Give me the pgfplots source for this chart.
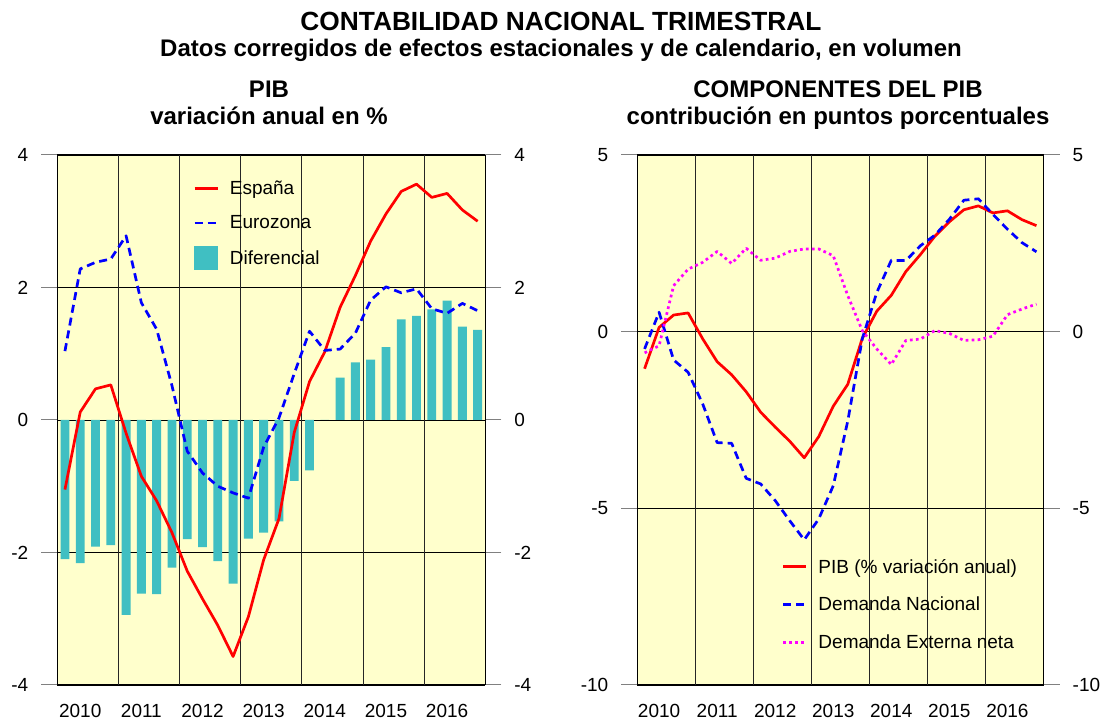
\documentclass[border=0pt]{standalone}
\usepackage{fontspec}
\setmainfont{Liberation Sans}
\usepackage{pgfplots}
\usepackage{pgfplotstable}
\pgfplotsset{compat=1.18}
\definecolor{bgyellow}{HTML}{FFFFCC}
\definecolor{barteal}{HTML}{40BFC2}
\definecolor{tickgray}{HTML}{808080}
\definecolor{pureRed}{RGB}{255,0,0}
\definecolor{pureBlue}{RGB}{0,0,255}
\definecolor{pureMag}{RGB}{255,0,255}
\newcommand{\tickfont}{\fontsize{19bp}{22bp}\selectfont}
\newcommand{\legfont}{\fontsize{19bp}{22bp}\selectfont}

\pgfplotstableread{
k esp eur dif
0 -1.05 1.04 -2.10
1 0.12 2.28 -2.16
2 0.47 2.38 -1.91
3 0.53 2.43 -1.89
4 -0.20 2.78 -2.94
5 -0.85 1.77 -2.62
6 -1.22 1.37 -2.63
7 -1.70 0.52 -2.23
8 -2.28 -0.47 -1.80
9 -2.70 -0.80 -1.92
10 -3.10 -1.00 -2.13
11 -3.57 -1.10 -2.47
12 -2.97 -1.18 -1.79
13 -2.11 -0.41 -1.70
14 -1.49 0.03 -1.53
15 -0.19 0.70 -0.92
16 0.58 1.34 -0.76
17 1.03 1.05 0.00
18 1.70 1.07 0.64
19 2.18 1.31 0.87
20 2.70 1.81 0.91
21 3.11 2.01 1.10
22 3.45 1.92 1.52
23 3.56 1.98 1.57
24 3.36 1.68 1.67
25 3.42 1.61 1.80
26 3.17 1.76 1.41
27 3.00 1.65 1.36
}\leftdata

\pgfplotstableread{
k pib dn den
0 -1.05 -0.49 -0.60
1 0.12 0.55 -0.40
2 0.47 -0.80 1.30
3 0.53 -1.15 1.77
4 -0.20 -2.04 1.96
5 -0.85 -3.14 2.27
6 -1.22 -3.16 1.93
7 -1.70 -4.15 2.36
8 -2.28 -4.31 2.02
9 -2.70 -4.78 2.08
10 -3.10 -5.35 2.27
11 -3.57 -5.89 2.34
12 -2.97 -5.30 2.34
13 -2.11 -4.36 2.15
14 -1.49 -2.53 1.02
15 -0.19 -0.20 0.03
16 0.58 1.11 -0.49
17 1.03 2.02 -0.93
18 1.70 2.01 -0.25
19 2.18 2.43 -0.21
20 2.70 2.73 0.03
21 3.11 3.18 -0.05
22 3.45 3.72 -0.25
23 3.56 3.76 -0.23
24 3.36 3.32 -0.13
25 3.42 2.90 0.48
26 3.17 2.52 0.64
27 3.00 2.26 0.78
}\rightdata

\pgfplotsset{
  base/.style={
    scale only axis,
    axis background/.style={fill=bgyellow},
    xmin=-0.5, xmax=27.5,
    xtick={1,5,9,13,17,21,25},
    xticklabels={2010,2011,2012,2013,2014,2015,2016},
    xtick style={draw=none},
    xticklabel style={font=\tickfont, yshift=0bp},
    yticklabel style={font=\tickfont, xshift=-9.5bp},
    ytick pos=left,
    tick align=outside,
    major tick length=16bp,
    ytick style={draw=tickgray, line width=1bp},
    ymajorgrids,
    grid style={black, line width=0.8bp},
    extra x ticks={3.5,7.5,11.5,15.5,19.5,23.5},
    extra x tick labels={},
    extra x tick style={grid=major, major grid style={black!85, line width=0.9bp}, tick style={draw=none}},
    axis line style={black, line width=1bp},
    legend cell align=left,
  },
  rlabels/.style={
    scale only axis,
    xmin=-0.5, xmax=27.5,
    axis x line=none,
    axis y line*=right,
    tick align=outside,
    major tick length=16bp,
    ytick style={draw=tickgray, line width=1bp},
    yticklabel style={font=\tickfont, xshift=9.5bp},
    axis line style={black, line width=1bp},
  },
  linelegend/.style={legend image code/.code={\draw[##1] (0bp,0bp) -- (23bp,0bp);}},
}

\begin{document}
\begin{tikzpicture}[x=1bp,y=1bp]
\useasboundingbox (0,0) rectangle (1103,722);

\node[anchor=base, font=\fontsize{26.3bp}{30bp}\selectfont\bfseries] at (561,691.3) {CONTABILIDAD NACIONAL TRIMESTRAL};
\node[anchor=base, font=\fontsize{24bp}{28bp}\selectfont\bfseries] at (561,665.3) {Datos corregidos de efectos estacionales y de calendario, en volumen};
\node[anchor=base, font=\fontsize{24bp}{28bp}\selectfont\bfseries] at (269,624) {PIB};
\node[anchor=base, font=\fontsize{24bp}{28bp}\selectfont\bfseries] at (269,597) {variación anual en \%};
\node[anchor=base, font=\fontsize{24bp}{28bp}\selectfont\bfseries] at (838,624) {COMPONENTES DEL PIB};
\node[anchor=base, font=\fontsize{24bp}{28bp}\selectfont\bfseries] at (838,597) {contribución en puntos porcentuales};

% ---------- left panel ----------
\begin{axis}[base,
  at={(57.3bp,37bp)}, anchor=south west,
  width=428bp, height=530bp,
  ymin=-4, ymax=4,
  ytick={-4,-2,0,2,4}, yticklabels={-4,-2,0,2,4},
  legend style={draw=none, fill=none, at={(0.317,0.952)}, anchor=north west,
    inner sep=0pt, font=\legfont, row sep=20bp, column sep=11bp,
    nodes={inner sep=0pt}},
]
\addplot[ybar, bar width=0.58, fill=barteal, draw=none, forget plot] table[x=k, y=dif] {\leftdata};
\addplot[pureRed, line width=2.7bp, line join=round, linelegend] table[x=k, y=esp] {\leftdata};
\addlegendentry{España}
\addplot[pureBlue, line width=2.7bp, dash pattern=on 8bp off 5bp, line join=round, linelegend] table[x=k, y=eur] {\leftdata};
\addlegendentry{Eurozona}
\addlegendimage{legend image code/.code={\path[use as bounding box] (0bp,-4bp) rectangle (23bp,4bp); \fill[barteal] (0bp,-11.5bp) rectangle (23bp,11.5bp);}}
\addlegendentry{Diferencial}
\end{axis}
\begin{axis}[rlabels,
  at={(57.3bp,37bp)}, anchor=south west,
  width=428bp, height=530bp,
  ymin=-4, ymax=4,
  ytick={-4,-2,0,2,4}, yticklabels={-4,-2,0,2,4},
]
\addplot[draw=none, forget plot] coordinates {(0,0)};
\end{axis}

% ---------- right panel ----------
\begin{axis}[base,
  at={(637.3bp,37bp)}, anchor=south west,
  width=406.4bp, height=530bp,
  ymin=-10, ymax=5,
  ytick={-10,-5,0,5}, yticklabels={-10,-5,0,5},
  legend style={draw=none, fill=none, at={(0.355,0.238)}, anchor=north west,
    inner sep=0pt, font=\legfont, row sep=22.5bp, column sep=11bp,
    nodes={inner sep=0pt}},
]
\addplot[pureRed, line width=2.7bp, line join=round, linelegend] table[x=k, y=pib] {\rightdata};
\addlegendentry{PIB (\% variación anual)}
\addplot[pureBlue, line width=2.7bp, dash pattern=on 8bp off 5bp, line join=round, linelegend] table[x=k, y=dn] {\rightdata};
\addlegendentry{Demanda Nacional}
\addplot[pureMag, line width=2.7bp, dash pattern=on 2.7bp off 3.3bp, line join=round, linelegend] table[x=k, y=den] {\rightdata};
\addlegendentry{Demanda Externa neta}
\end{axis}
\begin{axis}[rlabels,
  at={(637.3bp,37bp)}, anchor=south west,
  width=406.4bp, height=530bp,
  ymin=-10, ymax=5,
  ytick={-10,-5,0,5}, yticklabels={-10,-5,0,5},
]
\addplot[draw=none, forget plot] coordinates {(0,0)};
\end{axis}
\end{tikzpicture}
\end{document}
